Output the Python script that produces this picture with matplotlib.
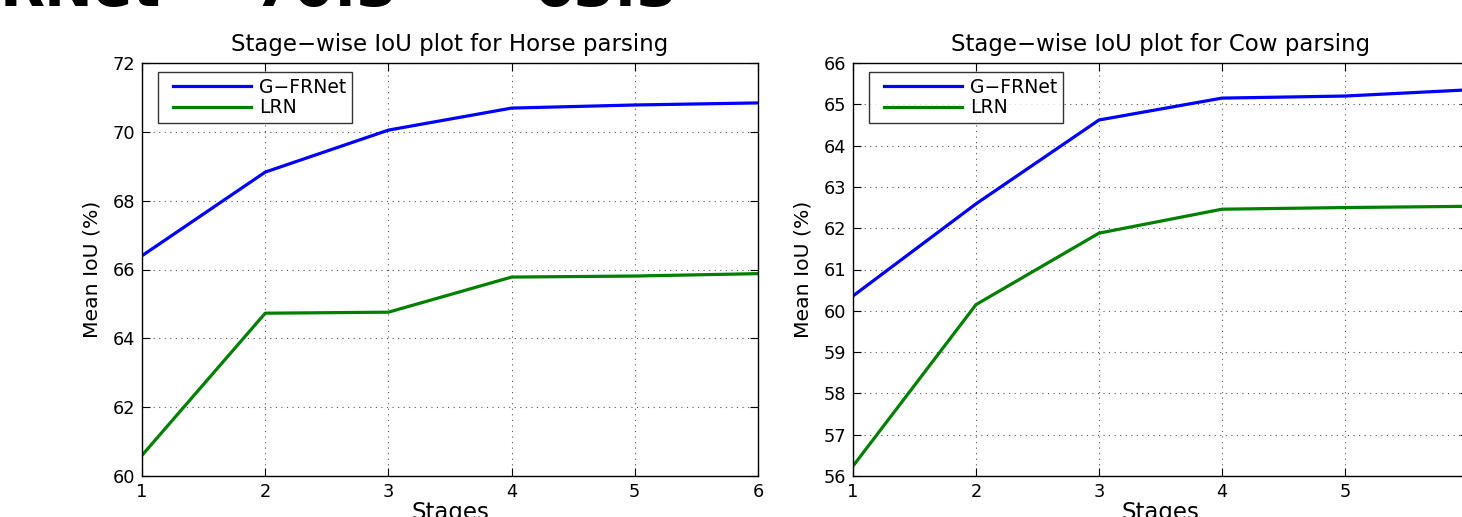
import matplotlib
matplotlib.use("Agg")
import matplotlib.pyplot as plt
from matplotlib.legend_handler import HandlerLine2D

stages = [1, 2, 3, 4, 5, 6]
horse_gfrnet = [66.40, 68.83, 70.05, 70.69, 70.78, 70.84]
horse_lrn = [60.60, 64.73, 64.76, 65.78, 65.81, 65.88]
cow_gfrnet = [60.36, 62.59, 64.62, 65.15, 65.20, 65.35]
cow_lrn = [56.24, 60.15, 61.88, 62.46, 62.50, 62.53]

horse_yticks = [60, 62, 64, 66, 68, 70, 72]
cow_yticks = [56, 57, 58, 59, 60, 61, 62, 63, 64, 65, 66]
horse_xlabels = ['1', '2', '3', '4', '5', '6']
cow_xlabels = ['1', '2', '3', '4', '5', '']

plt.rcParams['font.family'] = ['DejaVu Sans']

W, H = 1462, 517
fig = plt.figure(figsize=(W / 100, H / 100), dpi=100)

def px_axes(x0, x1, y0, y1):
    return fig.add_axes([x0 / W, 1 - y1 / H, (x1 - x0) / W, (y1 - y0) / H])

ax1 = px_axes(142, 758, 63, 476)
ax2 = px_axes(853, 1468, 63, 476)

panels = [
    (ax1, horse_gfrnet, horse_lrn, horse_yticks, horse_xlabels, 'Stage\u2212wise IoU plot for Horse parsing'),
    (ax2, cow_gfrnet, cow_lrn, cow_yticks, cow_xlabels, 'Stage\u2212wise IoU plot for Cow parsing'),
]

for ax, g, l, yt, xl, title in panels:
    lg, = ax.plot(stages, g, color='#0000ff', lw=2.3, label='G\u2212FRNet')
    ll, = ax.plot(stages, l, color='#008000', lw=2.3, label='LRN')
    ax.set_xlim(1, 6)
    ax.set_ylim(yt[0], yt[-1])
    ax.set_xticks(stages)
    ax.set_xticklabels(xl)
    ax.set_yticks(yt)
    ax.grid(True, linestyle=(0, (1, 4)), color='#555555', linewidth=0.8)
    ax.tick_params(direction='in', top=True, right=True, labelsize=12.8, length=6)
    ax.tick_params(axis='x', pad=5)
    ax.tick_params(axis='y', pad=5)
    for s in ax.spines.values():
        s.set_linewidth(1.0)
    ax.set_title(title, fontsize=16.5, pad=9)
    ax.set_xlabel('Stages', fontsize=16.5, labelpad=0)
    ax.set_ylabel('Mean IoU (%)', fontsize=14.7, labelpad=8)
    hmap = {lg: HandlerLine2D(xpad=0.5), ll: HandlerLine2D(xpad=0.5)}
    leg = ax.legend(loc='upper left', fontsize=13.5, frameon=True, fancybox=False,
                    edgecolor='black', borderpad=0.3, handlelength=4.66,
                    handletextpad=0.43, borderaxespad=0.0, handler_map=hmap,
                    labelspacing=0.08, bbox_to_anchor=(16 / 616, 1 - 9 / 413))
    leg.get_frame().set_linewidth(1.0)

for txt, xc in [('RNet', 80), ('70.3', 325), ('63.3', 605)]:
    fig.text(xc / W, 1 - 6 / H, txt, fontsize=42, fontweight='bold',
             va='baseline', ha='center')

fig.savefig('out.png', dpi=100)
